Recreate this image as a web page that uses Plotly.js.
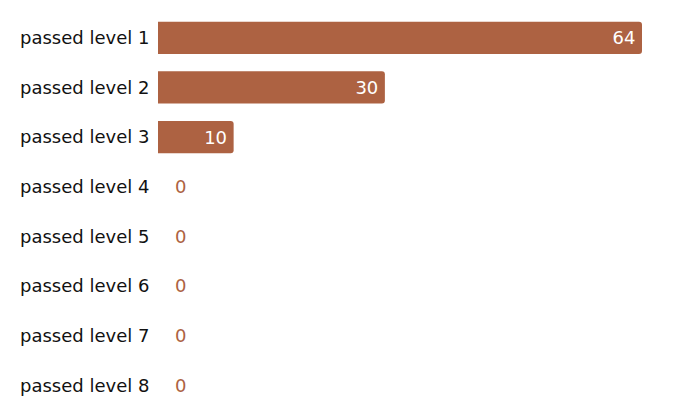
<!DOCTYPE html>
<html>
<head>
<meta charset="utf-8">
<script src="https://cdn.plot.ly/plotly-3.0.1.min.js"></script>
<style>html,body{margin:0;padding:0;background:#fff;}#chart{width:680px;height:415px;}</style>
</head>
<body>
<div id="chart"></div>
<script>
const categories = ["passed level 1","passed level 2","passed level 3","passed level 4","passed level 5","passed level 6","passed level 7","passed level 8"];
const values = [64, 30, 10, 0, 0, 0, 0, 0];

const barColor = "#AD6242";
const fontFamily = "DejaVu Sans, Verdana, sans-serif";

const annotations = [];
categories.forEach((c, i) => {
  if (values[i] === 0) {
    annotations.push({
      x: 0, y: c, xref: "x", yref: "y", text: String(values[i]),
      showarrow: false, xanchor: "left", xshift: 15,
      font: {family: fontFamily, size: 18, color: barColor}
    });
  }
});

const trace = {
  type: "bar",
  orientation: "h",
  y: categories,
  x: values,
  marker: {color: barColor, cornerradius: 3},
  text: values.map(v => v > 0 ? v + "\u2009" : ""),
  textposition: "inside",
  insidetextanchor: "end",
  insidetextfont: {family: fontFamily, size: 18, color: "#ffffff"},
  hoverinfo: "none",
  cliponaxis: false
};

const layout = {
  width: 680, height: 415,
  margin: {l: 158, r: 38, t: 13, b: 5},
  paper_bgcolor: "#ffffff", plot_bgcolor: "#ffffff",
  bargap: 0.35,
  showlegend: false,
  font: {family: fontFamily, size: 18, color: "#111111"},
  xaxis: {range: [0, 64], showgrid: false, zeroline: false, showticklabels: false, showline: false, fixedrange: true},
  yaxis: {autorange: "reversed", showgrid: false, zeroline: false, showline: false,
          ticks: "outside", ticklen: 4, tickcolor: "rgba(0,0,0,0)",
          tickfont: {family: fontFamily, size: 18, color: "#111111"}, fixedrange: true},
  annotations: annotations
};

Plotly.newPlot("chart", [trace], layout, {displayModeBar: false, staticPlot: true});
</script>
</body>
</html>
